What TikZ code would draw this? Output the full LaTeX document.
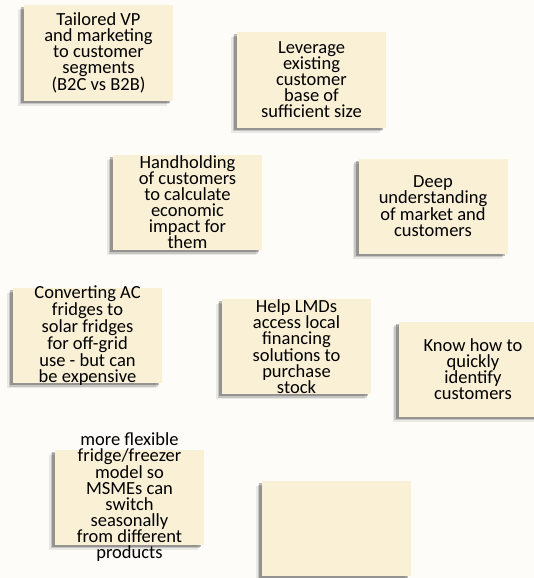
\documentclass[tikz,border=0pt]{standalone}
\usepackage{fontspec}
\setmainfont{Carlito}
\usetikzlibrary{shadows}
\definecolor{notefill}{RGB}{250,240,214}
\definecolor{pagebg}{RGB}{253,252,249}
\begin{document}
\begin{tikzpicture}[x=1pt,y=-1pt,
    note/.style={fill=notefill,minimum width=149pt,minimum height=95pt,inner sep=0pt,
      drop shadow={shadow xshift=-6pt,shadow yshift=-5pt,fill=black,opacity=.08},
      drop shadow={shadow xshift=-4.5pt,shadow yshift=-3.5pt,fill=black,opacity=.15},
      drop shadow={shadow xshift=-3pt,shadow yshift=-2pt,fill=black,opacity=.25}},
    txt/.style={align=center,font=\fontsize{18.5}{16}\selectfont}]
    \fill[pagebg] (0,0) rectangle (534,578);
    \useasboundingbox (0,0) rectangle (534,578);
    \node[note,label={[txt]center:Tailored VP\\and marketing\\to customer\\segments\\(B2C vs B2B)}] (vp) at (98.5,53) {};
    \node[note,label={[txt]center:Leverage\\existing\\customer\\base of\\sufficient size}] (base) at (311.5,80) {};
    \node[note,label={[txt]center:Handholding\\of customers\\to calculate\\economic\\impact for\\them}] (hand) at (187.5,202.5) {};
    \node[note,label={[txt]center:Deep\\understanding\\of market and\\customers}] (deep) at (433,206) {};
    \node[note,label={[txt]center:Converting AC\\fridges to\\solar fridges\\for off-grid\\use - but can\\be expensive}] (conv) at (87.5,335.5) {};
    \node[note,label={[txt]center:Help LMDs\\access local\\financing\\solutions to\\purchase\\stock}] (lmd) at (296.5,346.5) {};
    \node[note,label={[txt]center:Know how to\\quickly\\identify\\customers}] (know) at (473,369) {};
    \node[note,label={[txt]center:more flexible\\fridge/freezer\\model so\\MSMEs can\\switch\\seasonally\\from different\\products}] (flex) at (129.5,497) {};
    \node[note] (blank) at (336.5,528.5) {};
\end{tikzpicture}
\end{document}
